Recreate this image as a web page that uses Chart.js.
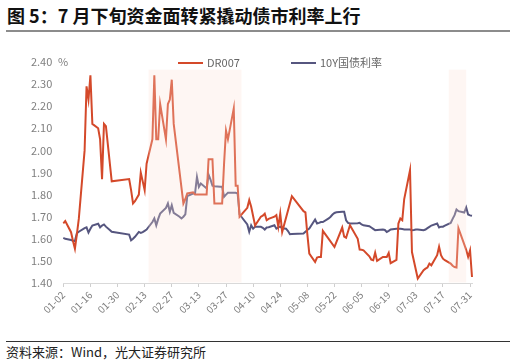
<!DOCTYPE html>
<html>
<head>
<meta charset="utf-8">
<script src="https://cdn.jsdelivr.net/npm/chart.js@4.4.1/dist/chart.umd.min.js"></script>
<style>
  body { margin: 0; background: #fff; width: 516px; height: 363px; position: relative; overflow: hidden;
         font-family: "Noto Sans CJK SC", "Noto Sans", sans-serif; }
  #title { position: absolute; left: 7px; top: 4px; font-size: 18px; line-height: 22px; font-weight: bold; color: #111; white-space: nowrap; }
  #rule1 { position: absolute; left: 6px; top: 30px; width: 504px; height: 2px; background: #8c8c8c; }
  #chart { position: absolute; left: 0; top: 0; }
  #rule2 { position: absolute; left: 6px; top: 341px; width: 504px; height: 1px; background: #333; }
  #source { position: absolute; left: 6px; top: 343px; font-size: 13px; line-height: 18px; color: #222; white-space: nowrap; }
</style>
</head>
<body>
<div id="title">图 5：7 月下旬资金面转紧撬动债市利率上行</div>
<div id="rule1"></div>
<canvas id="chart" width="516" height="340"></canvas>
<div id="rule2"></div>
<div id="source">资料来源：Wind，光大证券研究所</div>
<script>
const tickLabels = ['01-02', '01-16', '01-30', '02-13', '02-27', '03-13', '03-27', '04-10',
  '04-24', '05-08', '05-22', '06-05', '06-19', '07-03', '07-17', '07-31'];
const yMin = 1.4, yMax = 2.4, yStep = 0.1;

// shaded periods
const shadeStart = ['02-15', '07-20'];
const shadeEnd = ['04-04', '07-29'];
const shadeTop = 2.365;

// DR007, %
const drDates = [
  '01-02', '01-03', '01-06', '01-07', '01-08', '01-09', '01-10', '01-13', '01-14', '01-15', '01-16', '01-17',
  '01-20', '01-21', '01-22', '01-23', '01-24', '01-27',
  '02-05', '02-06', '02-07', '02-08', '02-10', '02-11', '02-12', '02-13', '02-14', '02-17', '02-18', '02-19',
  '02-20', '02-21', '02-24', '02-25', '02-26', '02-27', '02-28',
  '03-05', '03-06', '03-07', '03-10', '03-11', '03-12', '03-13', '03-14', '03-17', '03-18', '03-19', '03-20',
  '03-21', '03-24', '03-25', '03-26', '03-27', '03-28', '03-31',
  '04-01', '04-02', '04-03', '04-07', '04-08', '04-09', '04-11', '04-14', '04-15', '04-16', '04-17', '04-18',
  '04-21', '04-22', '04-23', '04-24', '04-25', '04-30',
  '05-06', '05-07', '05-08', '05-09', '05-12', '05-13', '05-14', '05-15', '05-16', '05-19', '05-22', '05-26',
  '05-27', '05-28', '05-30',
  '06-03', '06-04', '06-05', '06-06', '06-09', '06-10', '06-11', '06-12', '06-13', '06-16', '06-17', '06-18',
  '06-19', '06-20', '06-23', '06-24', '06-25', '06-26', '06-27', '06-30',
  '07-01', '07-04', '07-07', '07-08', '07-09', '07-10', '07-11', '07-14', '07-15', '07-16', '07-17', '07-18',
  '07-21', '07-22', '07-23', '07-24', '07-25', '07-28', '07-29', '07-30', '07-31', '08-01'];
const drValues = [
  1.67, 1.68, 1.63, 1.59, 1.555, 1.62, 1.69, 2.00, 2.29, 2.23, 2.34, 2.12,
  2.10, 2.05, 1.87, 2.12, 2.11, 1.86,
  1.87, 1.82, 1.76, 1.77, 1.80, 1.90, 1.86, 1.82, 1.94, 2.05, 2.34, 2.05,
  2.05, 2.21, 2.05, 2.21, 2.23, 2.32, 2.12,
  1.76, 1.78, 1.805, 1.81, 1.80, 1.80, 1.80, 1.80, 1.80, 1.96, 1.96, 1.96,
  1.76, 1.76, 1.76, 1.94, 2.09, 2.05, 2.19,
  1.84, 1.84, 1.70, 1.74, 1.775, 1.745, 1.66, 1.70, 1.705, 1.714, 1.684, 1.69,
  1.70, 1.707, 1.654, 1.714, 1.631, 1.793,
  1.725, 1.72, 1.62, 1.533, 1.495, 1.515, 1.518, 1.518, 1.636, 1.60, 1.563, 1.651,
  1.61, 1.605, 1.661,
  1.60, 1.551, 1.55, 1.548, 1.521, 1.506, 1.503, 1.537, 1.50, 1.518, 1.518, 1.518,
  1.536, 1.49, 1.505, 1.669, 1.692, 1.684, 1.78, 1.91,
  1.54, 1.42, 1.458, 1.465, 1.47, 1.488, 1.48, 1.526, 1.564, 1.526, 1.51, 1.503,
  1.488, 1.478, 1.472, 1.47, 1.648, 1.575, 1.55, 1.518, 1.548, 1.427];

// 10Y government bond yield, %
const tyDates = [
  '01-02', '01-03', '01-06', '01-07', '01-08', '01-09', '01-10', '01-13', '01-14', '01-15', '01-16', '01-17',
  '01-20', '01-21', '01-22', '01-23', '01-24', '01-26', '01-27',
  '02-05', '02-06', '02-07', '02-08', '02-10', '02-11', '02-12', '02-13', '02-14', '02-17', '02-18', '02-19',
  '02-20', '02-21', '02-24', '02-25', '02-26', '02-27', '02-28',
  '03-03', '03-04', '03-05', '03-06', '03-07', '03-10', '03-11', '03-12', '03-13', '03-14', '03-17', '03-18',
  '03-19', '03-20', '03-21', '03-24', '03-25', '03-26', '03-27', '03-28', '03-31',
  '04-01', '04-02', '04-03', '04-07', '04-08', '04-09', '04-10', '04-11', '04-14', '04-15', '04-16', '04-17',
  '04-18', '04-21', '04-22', '04-23', '04-24', '04-25', '04-27', '04-28', '04-29', '04-30',
  '05-06', '05-07', '05-08', '05-09', '05-12', '05-13', '05-14', '05-15', '05-16', '05-19', '05-20', '05-21',
  '05-22', '05-23', '05-26', '05-27', '05-28', '05-29', '05-30',
  '06-03', '06-04', '06-05', '06-06', '06-09', '06-10', '06-11', '06-12', '06-13', '06-16', '06-17', '06-18',
  '06-19', '06-20', '06-23', '06-24', '06-25', '06-26', '06-27', '06-30',
  '07-01', '07-02', '07-03', '07-04', '07-07', '07-08', '07-09', '07-10', '07-11', '07-14', '07-15', '07-16',
  '07-17', '07-18', '07-21', '07-22', '07-23', '07-24', '07-25', '07-28', '07-29', '07-30', '07-31', '08-01'];
const tyValues = [
  1.604, 1.60, 1.595, 1.59, 1.59, 1.625, 1.632, 1.648, 1.652, 1.628, 1.645, 1.66,
  1.668, 1.652, 1.66, 1.665, 1.655, 1.64, 1.632,
  1.619, 1.593, 1.60, 1.609, 1.631, 1.627, 1.63, 1.636, 1.642, 1.676, 1.692, 1.661,
  1.69, 1.714, 1.74, 1.76, 1.722, 1.752, 1.717,
  1.70, 1.692, 1.70, 1.711, 1.793, 1.805, 1.805, 1.88, 1.835, 1.85, 1.828, 1.89,
  1.868, 1.84, 1.838, 1.835, 1.835, 1.79, 1.80, 1.808, 1.808,
  1.808, 1.805, 1.71, 1.665, 1.632, 1.661, 1.646, 1.654, 1.654, 1.65, 1.642, 1.651,
  1.652, 1.661, 1.646, 1.652, 1.655, 1.648, 1.646, 1.635, 1.621, 1.622,
  1.624, 1.632, 1.64, 1.646, 1.687, 1.669, 1.672, 1.676, 1.676, 1.692, 1.70, 1.71,
  1.717, 1.72, 1.722, 1.722, 1.684, 1.672, 1.669,
  1.67, 1.672, 1.665, 1.661, 1.657, 1.651, 1.645, 1.639, 1.64, 1.642, 1.64, 1.631,
  1.636, 1.642, 1.645, 1.646, 1.645, 1.644, 1.642, 1.642,
  1.639, 1.64, 1.642, 1.642, 1.639, 1.642, 1.648, 1.654, 1.66, 1.669, 1.651, 1.655,
  1.655, 1.66, 1.672, 1.69, 1.707, 1.733, 1.725, 1.719, 1.742, 1.71, 1.706, 1.704];

// every calendar day on the axis, trading days carry values
const days = [];
for (let t = Date.UTC(2025, 0, 2); t <= Date.UTC(2025, 7, 1); t += 86400000) {
  const d = new Date(t);
  days.push(String(d.getUTCMonth() + 1).padStart(2, '0') + '-' + String(d.getUTCDate()).padStart(2, '0'));
}
const toSeries = (dates, values) => days.map(day => {
  const i = dates.indexOf(day);
  return i < 0 ? null : values[i];
});

Chart.defaults.font.family = '"Noto Sans CJK SC", "Noto Sans", sans-serif';

const shadePlugin = {
  id: 'shade',
  afterDatasetsDraw(chart) {
    const {ctx, chartArea, scales: {x, y}} = chart;
    ctx.save();
    ctx.fillStyle = 'rgba(251, 224, 213, 0.28)';
    shadeStart.forEach((s, i) => {
      const x0 = x.getPixelForValue(days.indexOf(s));
      const x1 = x.getPixelForValue(days.indexOf(shadeEnd[i]));
      const y0 = y.getPixelForValue(shadeTop);
      ctx.fillRect(x0, y0, x1 - x0, chartArea.bottom - 0.5 - y0);
    });
    ctx.restore();
  }
};

const legendPlugin = {
  id: 'seriesLegend',
  afterDraw(chart) {
    const ctx = chart.ctx;
    const starts = [178, 291];
    const ly = 63;
    ctx.save();
    ctx.font = '11px "Noto Sans CJK SC", sans-serif';
    ctx.textBaseline = 'middle';
    chart.data.datasets.forEach((ds, i) => {
      ctx.strokeStyle = ds.borderColor;
      ctx.lineWidth = 2;
      ctx.beginPath();
      ctx.moveTo(starts[i], ly);
      ctx.lineTo(starts[i] + 25, ly);
      ctx.stroke();
      ctx.fillStyle = '#666';
      ctx.fillText(ds.label, starts[i] + 29, ly);
    });
    // unit next to the top tick
    ctx.fillStyle = '#7f7f7f';
    ctx.fillText('%', 58, chart.scales.y.getPixelForValue(yMax));
    ctx.restore();
  }
};

new Chart(document.getElementById('chart'), {
  type: 'line',
  data: {
    labels: days,
    datasets: [
      {
        label: 'DR007',
        data: toSeries(drDates, drValues),
        borderColor: '#d4492a',
        borderWidth: 2,
        pointRadius: 0,
        spanGaps: true,
        tension: 0,
      },
      {
        label: '10Y国债利率',
        data: toSeries(tyDates, tyValues),
        borderColor: '#56567f',
        borderWidth: 2,
        pointRadius: 0,
        spanGaps: true,
        tension: 0,
      },
    ],
  },
  options: {
    responsive: false,
    animation: false,
    layout: { padding: { top: 62, right: 44, bottom: 0, left: 0 } },
    plugins: {
      legend: { display: false },
      tooltip: { enabled: false },
    },
    scales: {
      x: {
        grid: {
          drawOnChartArea: false,
          tickLength: 4,
          color: (c) => tickLabels.includes(days[c.index]) ? '#cfcfcf' : 'rgba(0,0,0,0)',
        },
        border: { color: '#d9d9d9' },
        ticks: {
          autoSkip: false,
          maxRotation: 45,
          minRotation: 45,
          padding: 2,
          color: '#7f7f7f',
          font: { size: 10 },
          callback: (v, i) => tickLabels.includes(days[i]) ? days[i] : '',
        },
        afterFit: (s) => { s.height = 57; },
      },
      y: {
        min: yMin,
        max: yMax,
        ticks: {
          stepSize: yStep,
          padding: 11,
          color: '#7f7f7f',
          font: { size: 11 },
          callback: (v) => v.toFixed(2),
        },
        grid: { display: false, drawTicks: false },
        border: { display: false },
        afterFit: (s) => { s.width = 63.3; },
      },
    },
  },
  plugins: [shadePlugin, legendPlugin],
});
</script>
</body>
</html>
